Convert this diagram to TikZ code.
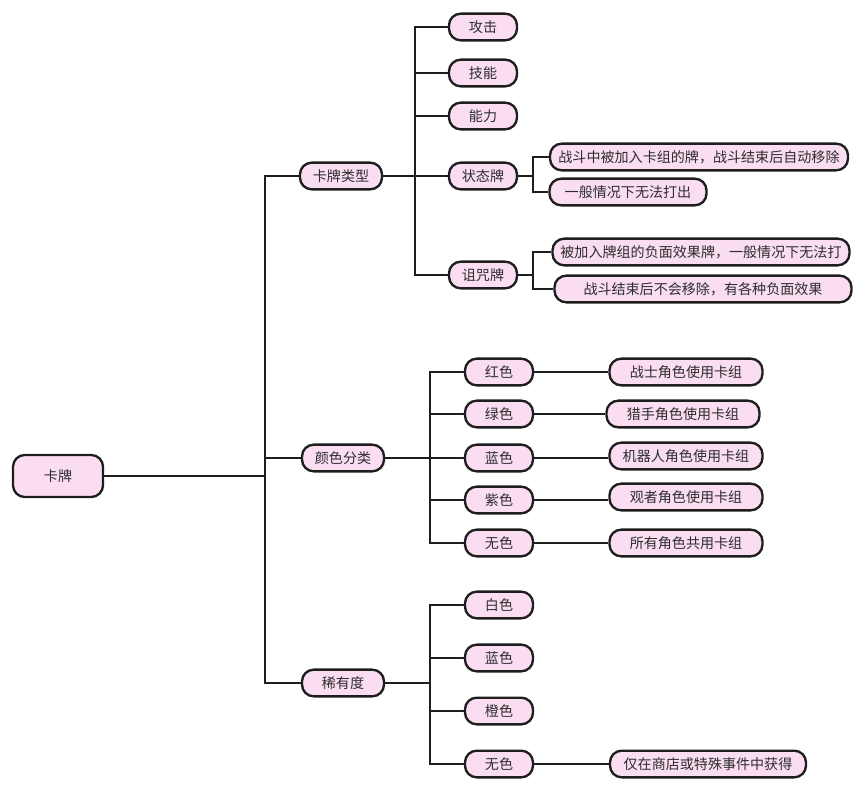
\documentclass[tikz,border=0pt]{standalone}
\usepackage{fontspec}
\setmainfont{Noto Sans CJK SC}
\definecolor{cardpink}{RGB}{250,221,241}
\definecolor{inkgray}{RGB}{45,45,45}
\definecolor{linkblack}{RGB}{30,30,30}

\begin{document}
\begin{tikzpicture}[x=0.03cm, y=-0.03cm,
  card/.style={rounded corners=10pt, fill=cardpink, draw=linkblack, line width=2pt, minimum height=0.8cm, inner sep=2pt, font=\fontsize{12}{14}\selectfont, text=inkgray},
  link/.style={line width=1.6pt, linkblack},
]
\useasboundingbox (0,0) rectangle (865,790);

% Root and first level
\node[card, minimum width=2.7cm, minimum height=1.26cm] (root) at (58,476) {卡牌};
\node[card, minimum width=2.46cm] (type) at (341,176) {卡牌类型};
\node[card, minimum width=2.46cm] (color) at (343,458) {颜色分类};
\node[card, minimum width=2.46cm] (rare) at (343,683) {稀有度};

\coordinate (trunk) at (265,476);
\draw[link] (root.east) -- (trunk) |- (type.west);
\draw[link] (trunk) |- (color.west);
\draw[link] (trunk) |- (rare.west);

% Card types
\node[card, minimum width=2.04cm] (attack) at (483,27) {攻击};
\node[card, minimum width=2.04cm] (skill) at (483,73) {技能};
\node[card, minimum width=2.04cm] (power) at (483,116) {能力};
\node[card, minimum width=2.04cm] (status) at (483,176) {状态牌};
\node[card, minimum width=2.04cm] (curse) at (483,275) {诅咒牌};

\coordinate (busT) at (415,176);
\draw[link] (type.east) -- (busT);
\foreach \n in {attack,skill,power,status,curse}
  \draw[link] (busT) |- (\n.west);

\node[card, minimum width=8.94cm] (statusA) at (699,157) {战斗中被加入卡组的牌，战斗结束后自动移除};
\node[card, minimum width=4.71cm] (statusB) at (628,192) {一般情况下无法打出};
\node[card, minimum width=8.91cm] (curseA) at (701,252) {被加入牌组的负面效果牌，一般情况下无法打};
\node[card, minimum width=8.91cm] (curseB) at (703,289) {战斗结束后不会移除，有各种负面效果};

\coordinate (busS) at (533,176);
\draw[link] (status.east) -- (busS);
\draw[link] (busS) |- (statusA.west);
\draw[link] (busS) |- (statusB.west);
\coordinate (busC) at (533,275);
\draw[link] (curse.east) -- (busC);
\draw[link] (busC) |- (curseA.west);
\draw[link] (busC) |- (curseB.west);

% Colours
\node[card, minimum width=2.04cm] (red) at (499,372) {红色};
\node[card, minimum width=2.04cm] (green) at (499,414) {绿色};
\node[card, minimum width=2.04cm] (blue) at (499,458) {蓝色};
\node[card, minimum width=2.04cm] (purple) at (499,500) {紫色};
\node[card, minimum width=2.04cm] (none) at (499,543) {无色};

\coordinate (busK) at (430,458);
\draw[link] (color.east) -- (busK);
\foreach \n in {red,green,blue,purple,none}
  \draw[link] (busK) |- (\n.west);

\node[card, minimum width=4.59cm] (redD) at (686,372) {战士角色使用卡组};
\node[card, minimum width=4.59cm] (greenD) at (683,414) {猎手角色使用卡组};
\node[card, minimum width=4.59cm] (blueD) at (686,456) {机器人角色使用卡组};
\node[card, minimum width=4.59cm] (purpleD) at (686,497) {观者角色使用卡组};
\node[card, minimum width=4.59cm] (noneD) at (686,543) {所有角色共用卡组};

\draw[link] (red) -- (redD);
\draw[link] (green) -- (greenD);
\draw[link] (blue.east) -- (blueD.west |- blue);
\draw[link] (purple.east) -- (purpleD.west |- purple);
\draw[link] (none) -- (noneD);

% Rarity
\node[card, minimum width=2.04cm] (white) at (499,605) {白色};
\node[card, minimum width=2.04cm] (rblue) at (499,658) {蓝色};
\node[card, minimum width=2.04cm] (orange) at (499,711) {橙色};
\node[card, minimum width=2.04cm] (rnone) at (499,764) {无色};

\coordinate (busR) at (430,683);
\draw[link] (rare.east) -- (busR);
\foreach \n in {white,rblue,orange,rnone}
  \draw[link] (busR) |- (\n.west);

\node[card, minimum width=5.88cm] (rnoneD) at (708,764) {仅在商店或特殊事件中获得};
\draw[link] (rnone) -- (rnoneD);
\end{tikzpicture}
\end{document}
